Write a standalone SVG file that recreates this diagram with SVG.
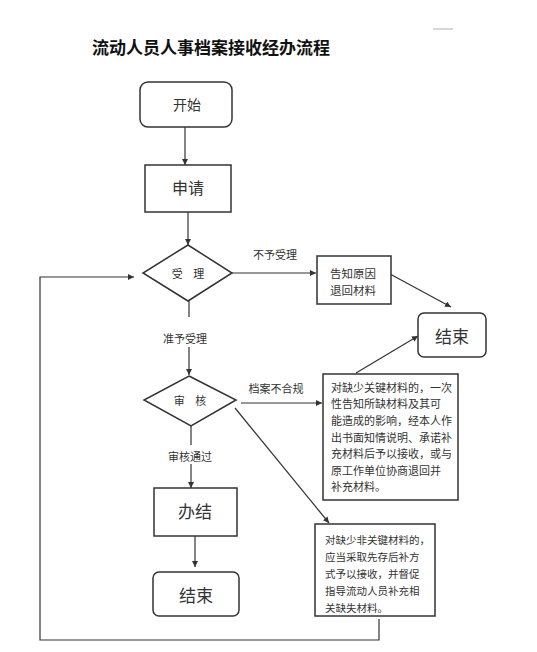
<svg xmlns="http://www.w3.org/2000/svg" width="537" height="652" viewBox="0 0 537 652">
<style>
text{font-family:"Noto Sans CJK SC","Noto Sans",sans-serif;fill:#333;dominant-baseline:central}
.box{fill:#fff;stroke:#333;stroke-width:1.5}
.ln{fill:none;stroke:#333;stroke-width:1.2}
.c{text-anchor:middle}
.s{font-size:11px}
.m{font-size:11px}
</style>
<defs>
<marker id="ah" viewBox="0 0 10 10" refX="10" refY="5" markerWidth="6" markerHeight="6" markerUnits="userSpaceOnUse" orient="auto">
<path d="M0,0 L10,5 L0,10 z" fill="#333"/>
</marker>
</defs>
<rect width="537" height="652" fill="#fff"/>
<g id="title">
<text x="211" y="46" class="c" style="font-size:17px;font-weight:bold;fill:#111">流动人员人事档案接收经办流程</text>
<line x1="433" y1="29" x2="453" y2="29" stroke="#999" stroke-width="0.8"/>
</g>
<g id="connectors">
<line class="ln" x1="185" y1="127" x2="185" y2="165" marker-end="url(#ah)"/>
<line class="ln" x1="188" y1="212" x2="188" y2="245" marker-end="url(#ah)"/>
<line class="ln" x1="232" y1="273" x2="316" y2="273" marker-end="url(#ah)"/>
<text x="275" y="254" class="c s">不予受理</text>
<line class="ln" x1="390" y1="274" x2="451" y2="307" marker-end="url(#ah)"/>
<line class="ln" x1="189" y1="301" x2="189" y2="317"/>
<text x="185" y="338" class="c s">准予受理</text>
<line class="ln" x1="189" y1="347" x2="189" y2="375" marker-end="url(#ah)"/>
<line class="ln" x1="241" y1="403" x2="322" y2="403" marker-end="url(#ah)"/>
<text x="276" y="388" class="c s">档案不合规</text>
<line class="ln" x1="356" y1="373" x2="418" y2="336" marker-end="url(#ah)"/>
<line class="ln" x1="235" y1="408" x2="329" y2="523" marker-end="url(#ah)"/>
<line class="ln" x1="191" y1="426" x2="191" y2="445"/>
<text x="190" y="456" class="c s">审核通过</text>
<line class="ln" x1="191" y1="464" x2="191" y2="488" marker-end="url(#ah)"/>
<line class="ln" x1="195" y1="536" x2="195" y2="567" marker-end="url(#ah)"/>
<polyline class="ln" points="379,619 379,640 40,640 40,277 134,277" marker-end="url(#ah)"/>
</g>
<g id="start">
<rect class="box" x="140" y="82" width="92" height="45" rx="8"/>
<text x="187" y="104" class="c" style="font-size:14px">开始</text>
</g>
<g id="apply">
<rect class="box" x="145" y="165" width="86" height="47"/>
<text x="188" y="187" class="c" style="font-size:16px">申请</text>
</g>
<g id="accept">
<polygon class="box" points="188,245 232,273 188,301 143,273"/>
<text x="190" y="273" class="c" style="font-size:11px;letter-spacing:4px">受 理</text>
</g>
<g id="reject">
<rect class="box" x="317" y="256" width="74" height="48"/>
<text x="330" y="273" style="font-size:11.5px">告知原因</text>
<text x="330" y="290" style="font-size:11.5px">退回材料</text>
</g>
<g id="end1">
<rect class="box" x="418" y="313" width="68" height="44" rx="6"/>
<text x="452" y="335" class="c" style="font-size:17px">结束</text>
</g>
<g id="review">
<polygon class="box" points="189,376 236,400 191,426 144,400"/>
<text x="192" y="400" class="c" style="font-size:11px;letter-spacing:4px">审 核</text>
</g>
<g id="noncompliant">
<rect class="box" x="323" y="374" width="135" height="126"/>
<text x="331" y="387" class="m">对缺少关键材料的，一次</text>
<text x="331" y="403" class="m">性告知所缺材料及其可</text>
<text x="331" y="420" class="m">能造成的影响，经本人作</text>
<text x="331" y="437" class="m">出书面知情说明、承诺补</text>
<text x="331" y="453" class="m">充材料后予以接收，或与</text>
<text x="331" y="470" class="m">原工作单位协商退回并</text>
<text x="331" y="486" class="m">补充材料。</text>
</g>
<g id="nonkey">
<rect class="box" x="315" y="524" width="120" height="92"/>
<text x="325" y="539" class="s" style="font-size:10.5px">对缺少非关键材料的，</text>
<text x="325" y="556" class="s" style="font-size:10.5px">应当采取先存后补方</text>
<text x="325" y="573" class="s" style="font-size:10.5px">式予以接收，并督促</text>
<text x="325" y="590" class="s" style="font-size:10.5px">指导流动人员补充相</text>
<text x="325" y="607" class="s" style="font-size:10.5px">关缺失材料。</text>
</g>
<g id="done">
<rect class="box" x="154" y="488" width="83" height="48"/>
<text x="195" y="510" class="c" style="font-size:17px">办结</text>
</g>
<g id="end2">
<rect class="box" x="153" y="572" width="86" height="44" rx="6"/>
<text x="196" y="594" class="c" style="font-size:17px">结束</text>
</g>
</svg>
